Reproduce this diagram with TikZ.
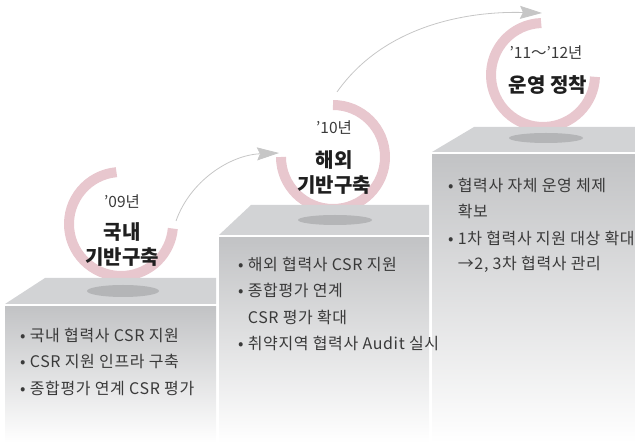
\documentclass[tikz,border=0pt]{standalone}
\usepackage{fontspec}
\setmainfont{Noto Sans CJK KR}
\usepackage{tikz}
\usetikzlibrary{arrows.meta}
\definecolor{ringpink}{HTML}{E8C7CE}
\definecolor{topgray}{HTML}{D2D3D5}
\definecolor{frontgray}{HTML}{C2C3C5}
\definecolor{shadowgray}{HTML}{B4B5B7}
\definecolor{arrowgray}{HTML}{C6C6C6}
\definecolor{textgray}{HTML}{3A3A3A}

\begin{document}
\begin{tikzpicture}[x=1pt,y=-1pt,
    ring/.style={draw=ringpink, line width=10pt},
    topface/.style={fill=topgray},
    frontface/.style={top color=frontgray, bottom color=white},
    flow/.style={draw=arrowgray, line width=0.8pt, -{Stealth[length=22pt,width=13pt,inset=3pt,fill=arrowgray]}},
    item/.style={anchor=west, inner sep=0pt, text=textgray, font=\fontsize{16}{18}\selectfont\addfontfeatures{LetterSpace=4}},
    year/.style={inner sep=0pt, text=textgray, font=\fontsize{15.5}{17}\selectfont},
    title/.style={inner sep=0pt, align=center, text=black!88, font=\fontsize{20}{25}\selectfont\bfseries}]
    \useasboundingbox (0,0) rectangle (635,443);
    % rings
    \coordinate (c1) at (121,224);
    \coordinate (c2) at (333,157);
    \coordinate (c3) at (543,75);
    \draw[ring] (c1) ++(-95:52) arc[start angle=-95, end angle=-355, radius=52];
    \draw[ring] (c2) ++(-90:52) arc[start angle=-90, end angle=180, radius=52];
    \draw[ring] (c3) ++(-92:52) arc[start angle=-92, end angle=-358, radius=52];
    % arrows
    \coordinate (a1s) at (176,221);
    \coordinate (a1e) at (279,153);
    \coordinate (a2s) at (337,92);
    \coordinate (a2e) at (542,13);
    \path[flow] (a1s) .. controls (190,181) and (230,155) .. (a1e);
    \path[flow] (a2s) .. controls (385,24) and (470,11) .. (a2e);
    % steps
    \fill[frontface] (5,307) rectangle (216,443);
    \fill[topface] (5,304) -- (45,278) -- (216,278) -- (216,304) -- cycle;
    \fill[frontface] (219,238) rectangle (429,443);
    \fill[topface] (219,235) -- (251,205) -- (429,205) -- (429,235) -- cycle;
    \fill[frontface] (432,155) rectangle (635,443);
    \fill[topface] (432,152) -- (474,127) -- (635,127) -- (635,152) -- cycle;
    % shadows
    \fill[shadowgray] (123,291) ellipse [x radius=36, y radius=6];
    \fill[shadowgray] (335,220) ellipse [x radius=37, y radius=5];
    \fill[shadowgray] (546,138) ellipse [x radius=37, y radius=5];
    % ring texts
    \node[year] (y1) at (122,202) {’09년};
    \node[title] (n1) at (122,244.5) {국내\\기반구축};
    \node[year] (y2) at (334,128) {’10년};
    \node[title] (n2) at (334,172.5) {해외\\기반구축};
    \node[year] (y3) at (546,53) {’11～’12년};
    \node[title] (n3) at (548,85) {운영 정착};
    % lists
    \foreach \t [count=\i] in {• 국내 협력사 CSR 지원, • CSR 지원 인프라 구축, • 종합평가 연계 CSR 평가}
        \node[item] (s1-\i) at (20,{308.5+26.5*\i}) {\t};
    \foreach \t [count=\i] in {• 해외 협력사 CSR 지원, • 종합평가 연계, \phantom{• }CSR 평가 확대, • 취약지역 협력사 Audit 실시}
        \node[item] (s2-\i) at (238,{237.5+26.5*\i}) {\t};
    \foreach \t [count=\i] in {• 협력사 자체 운영 체제, \phantom{• }확보, • 1차 협력사 지원 대상 확대, {\phantom{• }→2, 3차 협력사 관리}}
        \node[item] (s3-\i) at (448,{158.5+26.5*\i}) {\t};
\end{tikzpicture}
\end{document}
